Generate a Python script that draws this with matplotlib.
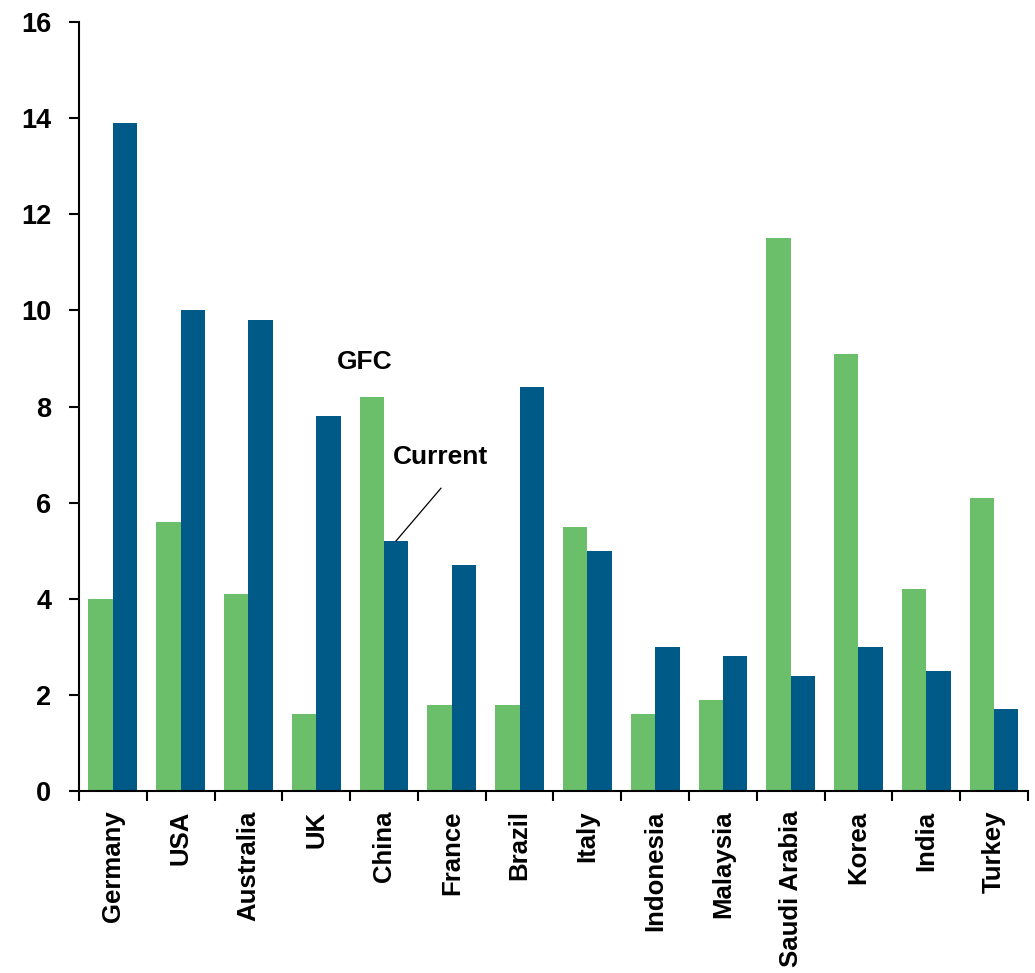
import numpy as np
import matplotlib.pyplot as plt
from matplotlib.ticker import FixedLocator

countries = ['Germany', 'USA', 'Australia', 'UK', 'China', 'France', 'Brazil',
             'Italy', 'Indonesia', 'Malaysia', 'Saudi Arabia', 'Korea', 'India', 'Turkey']
gfc = [4.0, 5.6, 4.1, 1.6, 8.2, 1.8, 1.8, 5.5, 1.6, 1.9, 11.5, 9.1, 4.2, 6.1]
current = [13.9, 10.0, 9.8, 7.8, 5.2, 4.7, 8.4, 5.0, 3.0, 2.8, 2.4, 3.0, 2.5, 1.7]
y_ticks = [0, 2, 4, 6, 8, 10, 12, 14, 16]

green = '#6bbf6a'
blue = '#005a87'

plt.rcParams['font.family'] = ['Liberation Sans', 'DejaVu Sans']
plt.rcParams['font.weight'] = 'bold'

fig = plt.figure(figsize=(10.35, 9.73), dpi=100)
ax = fig.add_axes([0.0763, 0.187, 0.9169, 0.7904])

x = np.arange(len(countries))
w = 0.36
ax.bar(x - w / 2, gfc, w, color=green)
ax.bar(x + w / 2, current, w, color=blue)

ax.set_xlim(-0.5, len(countries) - 0.5)
ax.set_ylim(0, 16)
ax.set_yticks(y_ticks)
ax.set_xticks(x)
ax.set_xticklabels(countries, rotation=90, va='top', ha='center')
ax.xaxis.set_minor_locator(FixedLocator(np.arange(-0.5, len(countries), 1.0)))

for s in ['top', 'right']:
    ax.spines[s].set_visible(False)
for s in ['left', 'bottom']:
    ax.spines[s].set_linewidth(1.5)

ax.tick_params(axis='x', which='major', length=0, pad=14, labelsize=18.5)
ax.tick_params(axis='x', which='minor', length=7, width=1.5, direction='out')
ax.tick_params(axis='y', length=7, width=1.5, direction='out', pad=13, labelsize=19.5)

# labels for the two series, placed at China
ax.text(3.72, 8.93, 'GFC', ha='center', va='center', fontsize=19, fontweight='bold')
ax.text(4.84, 6.95, 'Current', ha='center', va='center', fontsize=19, fontweight='bold')
ax.plot([4.84, 4.175], [6.30, 5.2], color='black', lw=0.9)

fig.savefig('out.png', dpi=100)
